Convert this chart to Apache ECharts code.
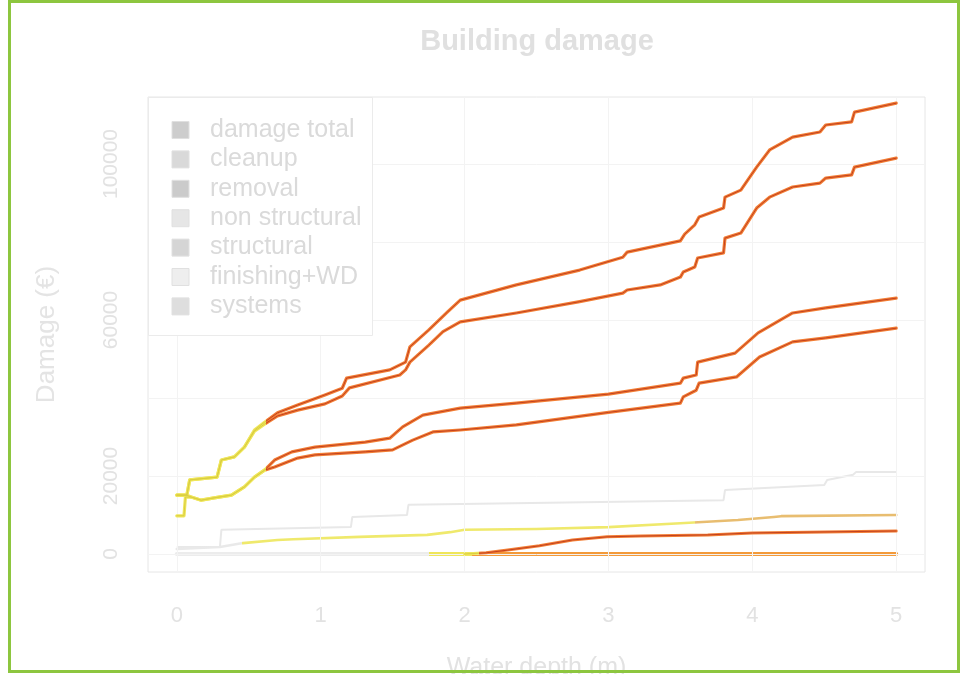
<!DOCTYPE html>
<html>
<head>
<meta charset="utf-8">
<title>Building damage</title>
<script src="https://cdn.jsdelivr.net/npm/echarts@6/dist/echarts.min.js"></script>
<style>
  html, body { margin: 0; padding: 0; background: #ffffff; }
  #chart { width: 961px; height: 674px; }
</style>
</head>
<body>
<div id="chart"></div>
<script>
// Axis ticks and labels
const depthTicks = [0, 1, 2, 3, 4, 5];
const damageTicks = [0, 20000, 40000, 60000, 80000, 100000];
const damageTickLabels = [0, 20000, 60000, 100000];

// Legend entries
const legendNames = ['damage total', 'cleanup', 'removal', 'non structural', 'structural', 'finishing+WD', 'systems'];
const legendSwatches = ['#cdcdcd', '#d9d9d9', '#cbcbcb', '#e6e6e6', '#d5d5d5', '#eeeeee', '#dedede'];

// Damage (EUR) against water depth (m): [depth, damage]
const totalUpper = [
  [0, 15100], [0.07, 15100], [0.09, 19000], [0.28, 19700], [0.31, 24100], [0.40, 24900],
  [0.47, 27400], [0.54, 31800], [0.61, 33800], [0.70, 36200], [0.84, 38200], [1.03, 40800],
  [1.15, 42500], [1.18, 45100], [1.48, 47200], [1.59, 49200], [1.62, 53100], [1.75, 57400],
  [1.88, 62000], [1.97, 65100], [2.36, 69000], [2.80, 72800], [3.10, 76100], [3.13, 77400],
  [3.36, 79200], [3.50, 80300], [3.53, 82000], [3.60, 84400], [3.63, 86400], [3.80, 88700],
  [3.81, 91500], [3.92, 93300], [4.03, 99200], [4.12, 103600], [4.28, 106900], [4.47, 108200],
  [4.51, 110000], [4.69, 110800], [4.71, 113300], [5.00, 115600]
];
const totalLower = [
  [0, 15100], [0.07, 15100], [0.09, 19000], [0.28, 19700], [0.31, 24100], [0.40, 24900],
  [0.47, 27400], [0.54, 31500], [0.61, 33300], [0.70, 35400], [0.84, 36900], [1.03, 38500],
  [1.15, 40500], [1.20, 42600], [1.55, 45900], [1.59, 47200], [1.60, 47400], [1.62, 49200],
  [1.75, 53500], [1.85, 57000], [1.97, 59500], [2.36, 61800], [2.80, 64700], [3.10, 66900],
  [3.13, 67700], [3.36, 69000], [3.50, 71000], [3.52, 72300], [3.60, 73600], [3.62, 75900],
  [3.80, 77200], [3.81, 81000], [3.92, 82300], [4.03, 88700], [4.12, 91500], [4.28, 94100],
  [4.47, 95100], [4.51, 96400], [4.69, 97200], [4.71, 99200], [5.00, 101500]
];
const partUpper = [
  [0, 15100], [0.07, 15100], [0.10, 14600], [0.17, 13800], [0.26, 14400], [0.38, 15100],
  [0.47, 17200], [0.54, 19700], [0.61, 21500], [0.68, 24100], [0.80, 26200], [0.96, 27400],
  [1.31, 28700], [1.48, 29700], [1.57, 32600], [1.71, 35600], [1.97, 37400], [2.36, 38700],
  [3.00, 41000], [3.50, 43800], [3.52, 45100], [3.61, 45900], [3.62, 49200], [3.88, 51500],
  [4.04, 56700], [4.28, 61800], [4.51, 63100], [5.00, 65600]
];
const partLower = [
  [0, 9800], [0.05, 9800], [0.06, 14600], [0.10, 14600], [0.17, 13800], [0.26, 14400],
  [0.38, 15100], [0.47, 17200], [0.54, 19700], [0.61, 21500], [0.68, 22300], [0.84, 24600],
  [0.96, 25400], [1.31, 26200], [1.50, 26700], [1.64, 29200], [1.78, 31300], [1.97, 31800],
  [2.36, 33100], [3.00, 36300], [3.50, 38700], [3.52, 40300], [3.61, 42000], [3.63, 43800],
  [3.89, 45400], [4.05, 50500], [4.28, 54400], [4.51, 55400], [5.00, 57900]
];
const stepGrey = [
  [0, 1800], [0.30, 1800], [0.31, 6200], [1.21, 6900], [1.22, 9500], [1.60, 10000],
  [1.61, 12600], [3.80, 13800], [3.81, 16400], [4.50, 17700], [4.52, 19000], [4.70, 20300],
  [4.72, 21000], [5.00, 21000]
];
const cleanupLine = [
  [0, 1300], [0.30, 1800], [0.46, 2800], [0.70, 3600], [0.81, 3800], [1.27, 4400],
  [1.74, 4900], [1.90, 5600], [2.00, 6200], [2.50, 6400], [3.00, 6900], [3.50, 7900],
  [3.90, 8700], [4.15, 9500], [4.20, 9700], [5.00, 10000]
];
const structuralLine = [
  [2.00, 0], [2.15, 300], [2.30, 1000], [2.52, 2100], [2.75, 3600], [2.99, 4400],
  [3.22, 4600], [3.69, 4900], [4.00, 5400], [4.38, 5600], [5.00, 5900]
];
const zeroLine = [[0, 0], [5, 0]];

const FONT = '"Liberation Sans", Arial, Helvetica, sans-serif';
const YELLOW = '#efe65a';
const ORANGE = '#f27e34';
const CORE_RED = '#c2401f';
const CORE_YELLOW = '#d9cd40';

function lineSeries(data, width, z, extra) {
  return Object.assign({
    type: 'line',
    data: data,
    showSymbol: false,
    symbol: 'none',
    silent: true,
    animation: false,
    z: z,
    lineStyle: { width: width, cap: 'round', join: 'round' }
  }, extra || {});
}

// colour switch along the depth axis: before / after a given depth
function splitPieces(at, before, after) {
  return [
    { lt: at, color: before },
    { gte: at, lte: 10, color: after },
    { gt: 10, color: after }
  ];
}

const series = [
  // faint background grid at the tick positions
  {
    type: 'line', data: [], silent: true, animation: false, z: 0,
    markLine: {
      silent: true, symbol: ['none', 'none'], animation: false,
      label: { show: false },
      lineStyle: { color: '#f3f3f3', width: 1, type: 'solid' },
      data: depthTicks.map(v => ({ xAxis: v })).concat(damageTicks.map(v => ({ yAxis: v })))
    }
  },
  lineSeries(stepGrey, 2, 2, { lineStyle: { width: 2, color: '#e8e8e8' } }),   // 1
  lineSeries(zeroLine, 4, 3),        // 2
  lineSeries(cleanupLine, 2.6, 4),   // 3
  lineSeries(structuralLine, 3, 5),  // 4
  lineSeries(structuralLine, 1, 6),  // 5
  lineSeries(totalUpper, 3.2, 7),    // 6
  lineSeries(totalLower, 3.2, 7),    // 7
  lineSeries(partUpper, 3.2, 7),     // 8
  lineSeries(partLower, 3.2, 7),     // 9
  lineSeries(totalUpper, 1, 8),      // 10
  lineSeries(totalLower, 1, 8),      // 11
  lineSeries(partUpper, 1, 8),       // 12
  lineSeries(partLower, 1, 8)        // 13
];

const visualMap = [
  { type: 'piecewise', show: false, dimension: 0, seriesIndex: [6, 7, 8, 9],
    pieces: splitPieces(0.62, YELLOW, ORANGE) },
  { type: 'piecewise', show: false, dimension: 0, seriesIndex: [10, 11, 12, 13],
    pieces: splitPieces(0.62, CORE_YELLOW, CORE_RED) },
  { type: 'piecewise', show: false, dimension: 0, seriesIndex: [2],
    pieces: [{ lt: 1.75, color: '#ececec' }, { gte: 1.75, lt: 2.05, color: YELLOW }, { gte: 2.05, lte: 10, color: '#f39a3a' }, { gt: 10, color: '#f39a3a' }] },
  { type: 'piecewise', show: false, dimension: 0, seriesIndex: [3],
    pieces: [{ lt: 0.45, color: '#e9e9e9' }, { gte: 0.45, lt: 3.6, color: '#efe96c' }, { gte: 3.6, lte: 10, color: '#e8bd70' }, { gt: 10, color: '#e8bd70' }] },
  { type: 'piecewise', show: false, dimension: 0, seriesIndex: [4],
    pieces: splitPieces(2.1, YELLOW, ORANGE) },
  { type: 'piecewise', show: false, dimension: 0, seriesIndex: [5],
    pieces: splitPieces(2.1, CORE_YELLOW, CORE_RED) }
];

// Legend drawn as a boxed list in the top-left corner of the plot
const legendTop = 130, legendStep = 29.4;
const legendGraphics = [
  { type: 'rect', shape: { x: 148.5, y: 97.5, width: 224, height: 238 },
    style: { fill: '#ffffff', stroke: '#ebebeb', lineWidth: 1 }, z: 20 }
];
legendNames.forEach((name, i) => {
  const cy = legendTop + i * legendStep;
  legendGraphics.push({
    type: 'rect', shape: { x: 172, y: cy - 8.5, width: 17, height: 17 },
    style: { fill: legendSwatches[i], stroke: '#e0e0e0', lineWidth: 1 }, z: 21
  });
  legendGraphics.push({
    type: 'text', x: 210, y: cy, z: 21,
    style: { text: name, fill: '#dadada', font: '25px ' + FONT, textVerticalAlign: 'middle', textAlign: 'left' }
  });
});

const option = {
  backgroundColor: '#ffffff',
  animation: false,
  grid: {
    left: 148, right: 36, top: 97, bottom: 102,
    outerBoundsMode: 'none', containLabel: false,
    show: true, borderColor: '#e6e6e6', borderWidth: 1, backgroundColor: 'transparent'
  },
  xAxis: {
    type: 'value', min: -0.2, max: 5.2,
    name: 'Water depth (m)', nameLocation: 'middle', nameGap: 84,
    nameTextStyle: { color: '#e2e2e2', fontSize: 25, fontFamily: FONT },
    axisLine: { show: false },
    splitLine: { show: false },
    axisTick: { show: true, length: 10, inside: false, customValues: depthTicks,
      lineStyle: { color: '#e4e4e4', width: 1 } },
    axisLabel: { customValues: depthTicks, margin: 33, color: '#e2e2e2', fontSize: 22, fontFamily: FONT }
  },
  yAxis: {
    type: 'value', min: -4615, max: 117180,
    name: 'Damage (€)', nameLocation: 'middle', nameGap: 88, nameRotate: 90,
    nameTextStyle: { color: '#e4e4e4', fontSize: 26, fontFamily: FONT },
    axisLine: { show: false },
    splitLine: { show: false },
    axisTick: { show: true, length: 10, inside: false, customValues: damageTicks,
      lineStyle: { color: '#e4e4e4', width: 1 } },
    axisLabel: { customValues: damageTickLabels, rotate: 90, margin: 26, color: '#e2e2e2',
      fontSize: 21, fontFamily: FONT, align: 'center', verticalAlign: 'bottom',
      formatter: v => String(v) }
  },
  visualMap: visualMap,
  series: series,
  graphic: legendGraphics.concat([
    { type: 'text', x: 537, y: 42, z: 30,
      style: { text: 'Building damage', fill: '#e0e0e0', font: 'bold 29px ' + FONT,
        textAlign: 'center', textVerticalAlign: 'middle' } },
    { type: 'rect', shape: { x: 9.5, y: 1.5, width: 949, height: 670 }, z: 40,
      style: { fill: 'none', stroke: '#8dc63f', lineWidth: 3 } }
  ])
};

const chart = echarts.init(document.getElementById('chart'), null, { renderer: 'canvas' });
chart.setOption(option);
</script>
</body>
</html>
